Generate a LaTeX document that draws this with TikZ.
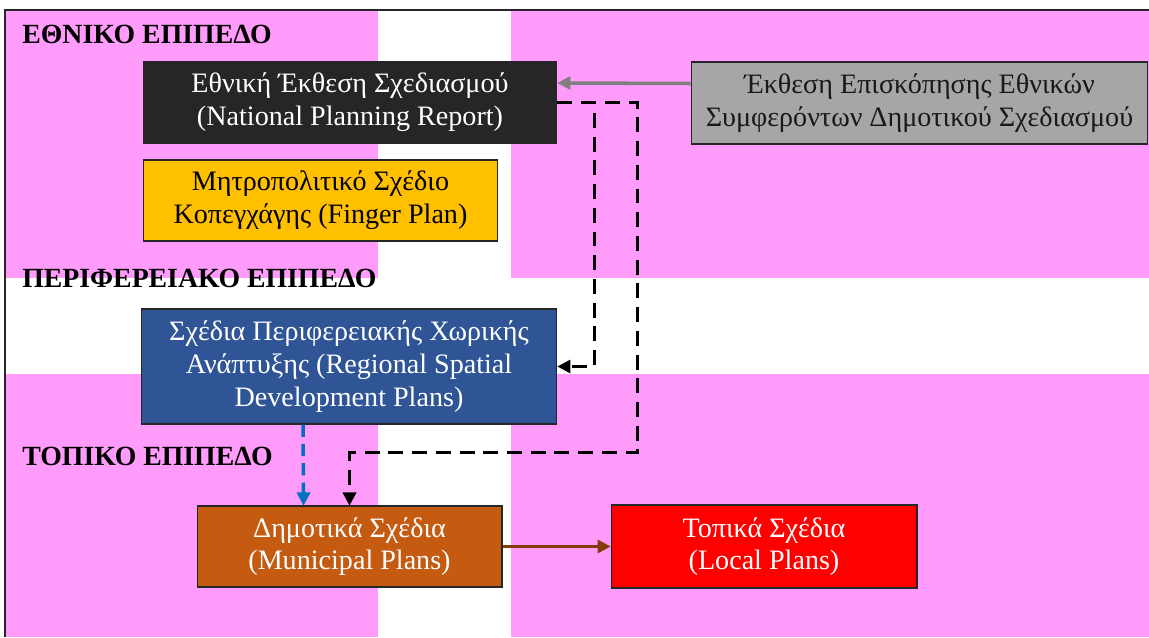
\documentclass[tikz,border=0pt]{standalone}
\usepackage{fontspec}
\setmainfont{Liberation Serif}
\definecolor{flagpink}{RGB}{255,155,250}
\definecolor{natfill}{RGB}{38,38,38}
\definecolor{revfill}{RGB}{166,166,166}
\definecolor{finfill}{RGB}{255,192,0}
\definecolor{regfill}{RGB}{47,85,151}
\definecolor{munfill}{RGB}{197,90,17}
\definecolor{locfill}{RGB}{255,0,0}
\definecolor{arrgray}{RGB}{127,127,127}
\definecolor{arrblue}{RGB}{0,112,192}
\definecolor{arrbrown}{RGB}{132,60,12}
\tikzset{
  planbox/.style={draw=black!85, line width=0.6pt, inner sep=0pt, align=center,
    font=\fontsize{16}{18.7}\selectfont},
  levellabel/.style={anchor=west, inner sep=0pt, font=\fontsize{15.8}{18}\selectfont\bfseries},
  dashline/.style={black, line width=2.2pt, dash pattern=on 8.5pt off 5pt},
}
\begin{document}
\begin{tikzpicture}[x=0.02cm, y=0.02cm]
\useasboundingbox (0,0) rectangle (1149,-637);
\fill [flagpink] (5,-10) rectangle (1149,-637);
\fill [white] (378,-10) rectangle (511,-637);
\fill [white] (5,-278) rectangle (1149,-374);
\draw [black!85, line width=0.9pt] (5,-637) -- (5,-10) -- (1149,-10);
\draw (22,-34) node (lvnat) [levellabel] {ΕΘΝΙΚΟ ΕΠΙΠΕΔΟ};
\draw (22,-278) node (lvreg) [levellabel] {ΠΕΡΙΦΕΡΕΙΑΚΟ ΕΠΙΠΕΔΟ};
\draw (22,-456) node (lvloc) [levellabel] {ΤΟΠΙΚΟ ΕΠΙΠΕΔΟ};
\draw (350,-102.5) node (nat) [planbox, fill=natfill, text=white, minimum width=8.28cm, minimum height=1.62cm] {Εθνική Έκθεση Σχεδιασμού\\(National Planning Report)};
\draw (919.5,-103) node (rev) [planbox, fill=revfill, text=black!90, minimum width=9.14cm, minimum height=1.64cm] {Έκθεση Επισκόπησης Εθνικών\\Συμφερόντων Δημοτικού Σχεδιασμού};
\draw (320.5,-200.5) node (fin) [planbox, fill=finfill, text=black, minimum width=7.1cm, minimum height=1.62cm] {Μητροπολιτικό Σχέδιο\\Κοπεγχάγης (Finger Plan)};
\draw (349,-366.5) node (reg) [planbox, fill=regfill, text=white, minimum width=8.32cm, minimum height=2.3cm] {Σχέδια Περιφερειακής Χωρικής\\Ανάπτυξης (Regional Spatial\\Development Plans)};
\draw (349.5,-546.5) node (mun) [planbox, fill=munfill, text=white, minimum width=6.1cm, minimum height=1.62cm] {Δημοτικά Σχέδια\\(Municipal Plans)};
\draw (764,-546.5) node (loc) [planbox, fill=locfill, text=white, minimum width=6.12cm, minimum height=1.66cm] {Τοπικά Σχέδια\\(Local Plans)};
\draw [arrgray, line width=2pt] ([yshift=0.39cm]rev.west) -- ([xshift=0.22cm,yshift=0.39cm]nat.east);
\fill [arrgray] ([yshift=0.39cm]nat.east) -- ++(13,7) -- ++(0,-14) -- cycle;
\draw [dashline] (nat.east) -- ++(37,0) |- ([xshift=0.22cm]reg.east);
\fill [black] (reg.east) -- ++(13,7) -- ++(0,-14) -- cycle;
\draw [dashline] (nat.east) -- ++(80,0) -- ++(0,-350) -| ([yshift=0.22cm]mun.north);
\fill [black] (mun.north) -- ++(-7,13) -- ++(14,0) -- cycle;
\draw [arrblue, line width=2pt, dash pattern=on 7pt off 4pt] ([xshift=-0.92cm]reg.south) -- ([xshift=-0.92cm,yshift=0.22cm]mun.north);
\fill [arrblue] ([xshift=-0.92cm]mun.north) -- ++(-7,13) -- ++(14,0) -- cycle;
\draw [arrbrown, line width=2.2pt] (mun.east) -- ([xshift=-0.22cm]loc.west);
\fill [arrbrown] (loc.west) -- ++(-13,7) -- ++(0,-14) -- cycle;
\end{tikzpicture}
\end{document}
